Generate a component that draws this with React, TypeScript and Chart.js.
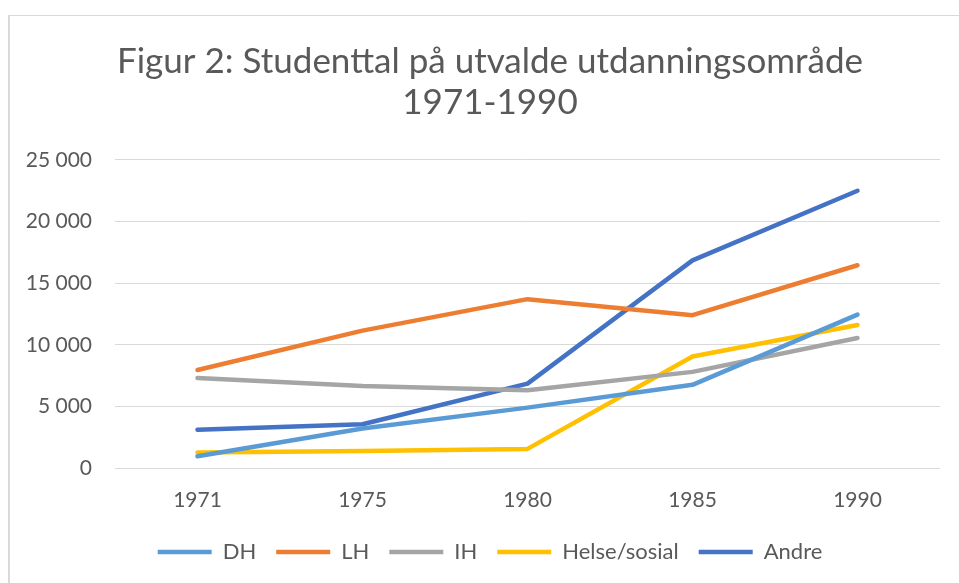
import React, { useEffect, useRef } from "react";
import { Chart, registerables } from "chart.js";

Chart.register(...registerables);

const categories = ["1971", "1975", "1980", "1985", "1990"];
const seriesNames = ["DH", "LH", "IH", "Helse/sosial", "Andre"];
const dhValues = [950, 3200, 4900, 6750, 12450];
const lhValues = [7950, 11150, 13700, 12400, 16450];
const ihValues = [7300, 6650, 6300, 7800, 10550];
const helseValues = [1250, 1380, 1550, 9050, 11600];
const andreValues = [3100, 3550, 6850, 16850, 22500];
const seriesColors = ["#5B9BD5", "#ED7D31", "#A5A5A5", "#FFC000", "#4472C4"];
const titleLines = ["Figur 2: Studenttal på utvalde utdanningsområde", "1971-1990"];
const yMax = 25000;
const yStep = 5000;

const fmt = (v: number) => String(v).replace(/\B(?=(\d{3})+(?!\d))/g, " ");

// Let the y-axis tick labels extend into the left layout padding without clipping.
const unclipYLabels = {
  id: "unclipYLabels",
  afterLayout(chart: any) {
    const y = chart.scales.y;
    if (y) y.left = 0;
  },
};

export default function App() {
  const ref = useRef<HTMLCanvasElement | null>(null);
  useEffect(() => {
    if (!ref.current) return;
    const values = [dhValues, lhValues, ihValues, helseValues, andreValues];
    const chart = new Chart(ref.current, {
      type: "line",
      data: {
        labels: categories,
        datasets: seriesNames.map((name, i) => ({
          label: name,
          data: values[i],
          borderColor: seriesColors[i],
          backgroundColor: seriesColors[i],
          borderWidth: 4.5,
          pointRadius: 0,
          pointHoverRadius: 0,
          tension: 0,
          borderCapStyle: "round" as const,
          borderJoinStyle: "round" as const,
        })),
      },
      plugins: [unclipYLabels],
      options: {
        responsive: false,
        animation: false,
        layout: { padding: { left: 30, right: 19, top: 0, bottom: 10 } },
        plugins: {
          title: {
            display: true,
            text: titleLines,
            color: "#595959",
            font: { family: "Lato", size: 35, weight: "normal", lineHeight: 1.17 },
            padding: { top: 25, bottom: 37 },
          },
          legend: {
            position: "bottom",
            labels: {
              usePointStyle: true,
              pointStyle: "line",
              pointStyleWidth: 54,
              color: "#595959",
              font: { family: "Lato", size: 22 },
              padding: 20,
            },
          },
          tooltip: { enabled: false },
        },
        scales: {
          x: {
            offset: true,
            grid: { display: false, drawTicks: false },
            border: { display: false },
            ticks: { color: "#595959", font: { family: "Lato", size: 21 }, padding: 20 },
            afterFit: (scale: any) => {
              scale.height = 53;
            },
          },
          y: {
            min: 0,
            max: yMax,
            grid: { color: "#d9d9d9", lineWidth: 1, drawTicks: false },
            border: { display: false },
            ticks: {
              stepSize: yStep,
              color: "#595959",
              font: { family: "Lato", size: 21 },
              padding: 23,
              callback: (v: any) => fmt(Number(v)),
            },
            afterFit: (scale: any) => {
              scale.width = 75;
            },
          },
        },
      },
    });
    return () => chart.destroy();
  }, []);
  return (
    <div
      style={{
        position: "fixed",
        left: 8,
        top: 15,
        width: 951,
        height: 568,
        boxSizing: "border-box",
        borderLeft: "2px solid #d9d9d9",
        borderTop: "1px solid #d9d9d9",
        background: "#fff",
      }}
    >
      <canvas ref={ref} width={949} height={567} style={{ display: "block" }} />
    </div>
  );
}
